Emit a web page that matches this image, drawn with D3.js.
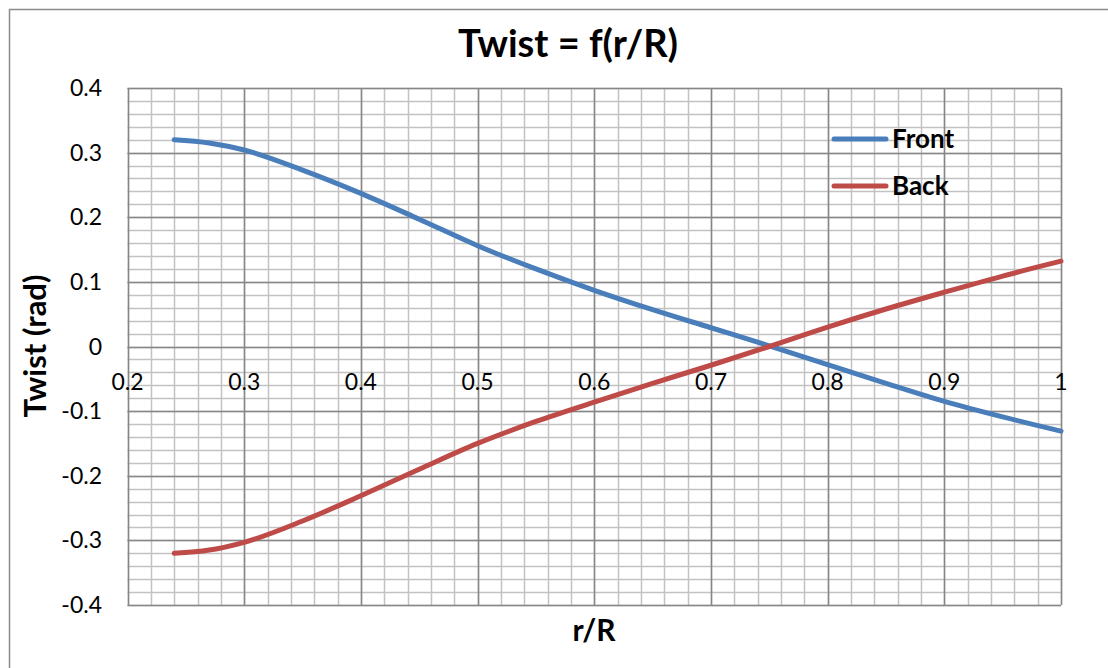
<!DOCTYPE html>
<html>
<head>
<meta charset="utf-8">
<script src="https://cdn.jsdelivr.net/npm/d3@7"></script>
<style>
    body { margin: 0; background: #fff; }
    svg { display: block; font-family: Lato, "Open Sans", sans-serif; }
</style>
</head>
<body>
<div id="chart"></div>
<script>
// r/R positions where the curves were read
const rR = [0.24, 0.27, 0.3, 0.35, 0.4, 0.45, 0.5, 0.55, 0.6, 0.65, 0.7, 0.75, 0.8, 0.85, 0.9, 0.95, 1.0];

// Twist values (rad)
const frontTwist = [0.32, 0.315, 0.304, 0.273, 0.237, 0.197, 0.156, 0.12, 0.087, 0.057, 0.029, 0.001, -0.028, -0.057, -0.085, -0.109, -0.131];
const backTwist = [-0.32, -0.315, -0.303, -0.27, -0.231, -0.19, -0.15, -0.116, -0.086, -0.057, -0.029, 0.0, 0.03, 0.058, 0.084, 0.109, 0.132];

const seriesNames = ['Front', 'Back'];
const seriesColors = ['#4A7EBB', '#BE4B48'];

const xTicks = [0.2, 0.3, 0.4, 0.5, 0.6, 0.7, 0.8, 0.9, 1];
const yTicks = [0.4, 0.3, 0.2, 0.1, 0, -0.1, -0.2, -0.3, -0.4];

const width = 1108, height = 668;
const plot = { left: 127.5, right: 1061, top: 88, bottom: 605 };

const svg = d3.select('#chart').append('svg')
    .attr('width', width)
    .attr('height', height);

// Outer chart frame (runs past the right and bottom edges)
svg.append('rect')
    .attr('x', 9.5).attr('y', 9.5)
    .attr('width', 1120).attr('height', 680)
    .attr('fill', 'none')
    .attr('stroke', '#8c8c8c')
    .attr('stroke-width', 1.5);

const x = d3.scaleLinear().domain([0.2, 1]).range([plot.left, plot.right]);
const y = d3.scaleLinear().domain([-0.4, 0.4]).range([plot.bottom, plot.top]);

// Minor grid, every 0.02
const minorX = d3.range(0, 41).map(i => 0.2 + i * 0.02);
const minorY = d3.range(0, 41).map(i => -0.4 + i * 0.02);

const grid = svg.append('g');
grid.selectAll('.mx').data(minorX).join('line')
    .attr('x1', d => Math.round(x(d)) + 0.5).attr('x2', d => Math.round(x(d)) + 0.5)
    .attr('y1', plot.top).attr('y2', plot.bottom)
    .attr('stroke', '#c2c2c2').attr('stroke-width', 1.5);
grid.selectAll('.my').data(minorY).join('line')
    .attr('y1', d => Math.round(y(d)) + 0.5).attr('y2', d => Math.round(y(d)) + 0.5)
    .attr('x1', plot.left).attr('x2', plot.right)
    .attr('stroke', '#c2c2c2').attr('stroke-width', 1.5);

// Major grid
grid.selectAll('.Mx').data(xTicks).join('line')
    .attr('x1', d => Math.round(x(d)) + 0.5).attr('x2', d => Math.round(x(d)) + 0.5)
    .attr('y1', plot.top).attr('y2', plot.bottom)
    .attr('stroke', '#868686').attr('stroke-width', 1.5);
grid.selectAll('.My').data(yTicks).join('line')
    .attr('y1', d => Math.round(y(d)) + 0.5).attr('y2', d => Math.round(y(d)) + 0.5)
    .attr('x1', plot.left).attr('x2', plot.right)
    .attr('stroke', '#868686').attr('stroke-width', 1.5);

// Tick labels
svg.append('g').selectAll('text').data(yTicks).join('text')
    .attr('x', 102)
    .attr('y', d => y(d) + 8)
    .attr('text-anchor', 'end')
    .attr('font-size', 23)
    .attr('fill', '#000')
    .text(d => d === 0 ? '0' : d3.format('.1f')(d).replace('−', '-'));

svg.append('g').selectAll('text').data(xTicks).join('text')
    .attr('x', d => x(d))
    .attr('y', 390)
    .attr('text-anchor', 'middle')
    .attr('font-size', 23)
    .attr('fill', '#000')
    .text(d => d === 1 ? '1' : d3.format('.1f')(d));

// Curves
const line = d3.line()
    .x(d => x(d[0]))
    .y(d => y(d[1]))
    .curve(d3.curveMonotoneX);

[frontTwist, backTwist].forEach((vals, i) => {
    svg.append('path')
        .datum(rR.map((r, j) => [r, vals[j]]))
        .attr('d', line)
        .attr('fill', 'none')
        .attr('stroke', seriesColors[i])
        .attr('stroke-width', 5)
        .attr('stroke-linecap', 'round');
});

// Legend
const legend = svg.append('g');
seriesNames.forEach((name, i) => {
    const ly = 139 + i * 47;
    legend.append('line')
        .attr('x1', 834).attr('x2', 886)
        .attr('y1', ly).attr('y2', ly)
        .attr('stroke', seriesColors[i])
        .attr('stroke-width', 5)
        .attr('stroke-linecap', 'round');
    legend.append('text')
        .attr('x', 892).attr('y', ly + 9)
        .attr('font-size', 26).attr('font-weight', 'bold')
        .text(name);
});

// Titles
svg.append('text')
    .attr('x', 568).attr('y', 57)
    .attr('text-anchor', 'middle')
    .attr('font-size', 38).attr('font-weight', 'bold')
    .text('Twist = f(r/R)');

svg.append('text')
    .attr('x', 594).attr('y', 641)
    .attr('text-anchor', 'middle')
    .attr('font-size', 30).attr('font-weight', 'bold')
    .text('r/R');

svg.append('text')
    .attr('transform', 'translate(46,346) rotate(-90)')
    .attr('text-anchor', 'middle')
    .attr('font-size', 31).attr('font-weight', 'bold')
    .text('Twist (rad)');
</script>
</body>
</html>
